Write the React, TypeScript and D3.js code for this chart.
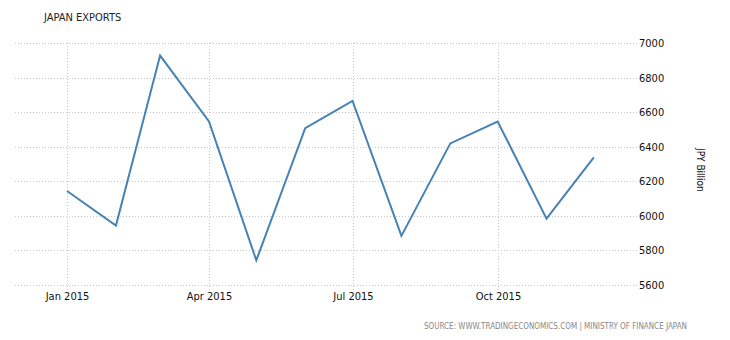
import React from "react";
import * as d3 from "d3";

const months = ["2015-01-01","2015-02-01","2015-03-01","2015-04-01","2015-05-01","2015-06-01","2015-07-01","2015-08-01","2015-09-01","2015-10-01","2015-11-01","2015-12-01"];
const exportsJPY = [6142, 5942, 6927, 6545, 5740, 6506, 6664, 5882, 6418, 6545, 5982, 6337];
const xTicks = ["2015-01-01", "2015-04-01", "2015-07-01", "2015-10-01"];
const xTickLabels = ["Jan 2015", "Apr 2015", "Jul 2015", "Oct 2015"];
const yTicks = [5600, 5800, 6000, 6200, 6400, 6600, 6800, 7000];

const W = 730, H = 340;
const parse = d3.utcParse("%Y-%m-%d");

export default function App() {
  const x = d3.scaleUtc()
    .domain([parse("2014-11-29")!, parse("2015-12-29")!])
    .range([15, 638]);
  const y = d3.scaleLinear().domain([5600, 7000]).range([284.5, 43]);
  const pts = months.map((m, i) => [x(parse(m)!), y(exportsJPY[i])] as [number, number]);
  const line = d3.line();
  const font = "'DejaVu Sans Condensed', 'DejaVu Sans', sans-serif";
  return (
    <svg width={W} height={H} style={{ position: "absolute", left: 0, top: 0, background: "#fff" }}>
      <text x={44} y={21} fontFamily={font} fontSize={11} fill="#222">JAPAN EXPORTS</text>
      {yTicks.map((t) => (
        <g key={t}>
          <line x1={15} x2={638} y1={Math.round(y(t)) + 0.5} y2={Math.round(y(t)) + 0.5}
            stroke="#c8c8c8" strokeDasharray="1,2" />
          <text x={639} y={y(t) + 4} fontFamily={font} fontSize={11} fill="#111">{t}</text>
        </g>
      ))}
      {xTicks.map((t, i) => {
        const xx = Math.round(x(parse(t)!)) + 0.5;
        return (
          <g key={t}>
            <line x1={xx} x2={xx} y1={43} y2={290} stroke="#c8c8c8" strokeDasharray="1,2" />
            <text x={xx} y={300} textAnchor="middle" fontFamily={font} fontSize={11} fill="#111">{xTickLabels[i]}</text>
          </g>
        );
      })}
      <text transform={`translate(697,170) rotate(90)`} textAnchor="middle" fontFamily={font} fontSize={10} fill="#111">JPY Billion</text>
      <path d={line(pts)!} fill="none" stroke="#4682b4" strokeWidth={2} strokeLinejoin="miter" />
      <text x={687} y={329} textAnchor="end" fontFamily={font} fontSize={8} fill="#888">SOURCE: WWW.TRADINGECONOMICS.COM | MINISTRY OF FINANCE JAPAN</text>
    </svg>
  );
}
